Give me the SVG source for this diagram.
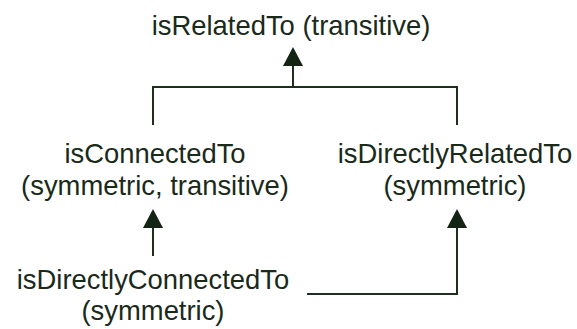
<svg xmlns="http://www.w3.org/2000/svg" width="577" height="329" viewBox="0 0 577 329">
<defs>
<style>
text{font-family:"Liberation Sans",Arial,sans-serif;font-size:27.4px;fill:#1a2a1a;text-anchor:middle}
.c{fill:none;stroke:#1f2f1f;stroke-width:2}
.h{fill:#142414}
</style>
</defs>
<rect width="577" height="329" fill="#ffffff"/>
<g id="connectors">
<path class="c" d="M293,66 V87 M153,125 V87 H457 V125"/>
<polygon class="h" points="293,47 303,66 283,66"/>
<path class="c" d="M153,228 V256"/>
<polygon class="h" points="153,209 163,228 143,228"/>
<path class="c" d="M307,294 H457 V228"/>
<polygon class="h" points="457,209 467,228 447,228"/>
</g>
<g id="isRelatedTo"><text x="291" y="35">isRelatedTo (transitive)</text></g>
<g id="isConnectedTo"><text x="155" y="163">isConnectedTo</text><text x="155" y="195">(symmetric, transitive)</text></g>
<g id="isDirectlyRelatedTo"><text x="455" y="163">isDirectlyRelatedTo</text><text x="455" y="195">(symmetric)</text></g>
<g id="isDirectlyConnectedTo"><text x="153" y="289">isDirectlyConnectedTo</text><text x="153" y="320">(symmetric)</text></g>
</svg>
